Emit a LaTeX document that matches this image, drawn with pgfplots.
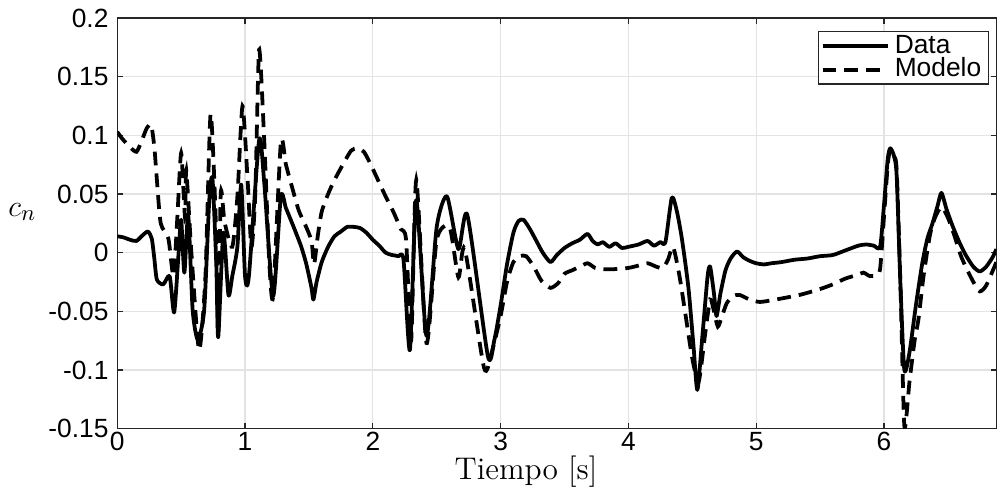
\documentclass[border=0pt]{standalone}
\usepackage{fontspec}
\usepackage{pgfplots}
\pgfplotsset{compat=1.18}
\newfontfamily\hel{Liberation Sans}
\definecolor{axgray}{HTML}{262626}
\definecolor{gridgray}{HTML}{E3E3E3}

\begin{document}
\begin{tikzpicture}
\begin{axis}[
  scale only axis,
  width=350.3pt, height=163.6pt,
  xmin=0, xmax=6.88, ymin=-0.15, ymax=0.2,
  xtick={0,1,2,3,4,5,6},
  xticklabels={0,1,2,3,4,5,6},
  ytick={-0.15,-0.1,-0.05,0,0.05,0.1,0.15,0.2},
  yticklabels={-0.15,-0.1,-0.05,0,0.05,0.1,0.15,0.2},
  tick align=inside, major tick length=2.2pt,
  ticklabel style={font=\hel\fontsize{10.5}{12}\selectfont, text=black},
  xticklabel style={inner sep=1.2pt, text depth=0pt},
  axis line style={axgray, line width=0.5pt},
  tick style={axgray, line width=0.5pt},
  grid=major, grid style={gridgray, line width=0.5pt},
  xlabel={Tiempo [s]}, ylabel={$c_n$},
  xlabel style={font=\fontsize{12.5}{14}\selectfont, inner sep=0pt, at={(axis description cs:0.465,-0.104)}, anchor=center},
  ylabel style={font=\fontsize{12.5}{14}\selectfont, rotate=-90, at={(axis description cs:-0.108,0.528)}, anchor=center},
  legend style={at={(axis description cs:0.992,0.968)}, anchor=north east,
    font=\hel\fontsize{10.5}{11}\selectfont, draw=axgray, line width=0.5pt,
    inner sep=1pt, row sep=0pt, cells={anchor=west},
    nodes={text height=7.2pt, text depth=1.6pt, inner ysep=0.3pt}},
  legend image code/.code={\draw[#1] (0pt,0pt) -- (26pt,0pt);},
  clip=true,
]
\addplot[black, line width=1.5pt, line join=round, smooth, tension=0.4] coordinates {
(0,0.014) (0.05,0.013) (0.1,0.011) (0.15,0.010) (0.2,0.015) (0.24,0.018) (0.27,0.012)
(0.29,-0.005) (0.31,-0.023) (0.36,-0.027) (0.41,-0.020) (0.445,-0.051) (0.48,0.0) (0.5,0.028)
(0.525,-0.017) (0.555,0.032) (0.59,-0.049) (0.63,-0.074) (0.68,-0.049) (0.72,0.045)
(0.745,0.063) (0.775,-0.01) (0.79,-0.072) (0.83,0.017) (0.87,-0.036) (0.9,-0.02)
(0.94,0.005) (0.97,0.058) (1.0,-0.02) (1.03,-0.02) (1.11,0.096) (1.15,0.06)
(1.22,-0.037) (1.28,0.048) (1.32,0.038) (1.38,0.022) (1.44,0.005) (1.48,-0.01)
(1.52,-0.03) (1.535,-0.04) (1.56,-0.025) (1.6,-0.008) (1.65,0.005) (1.7,0.014)
(1.75,0.018) (1.8,0.022) (1.85,0.022) (1.9,0.021) (1.95,0.017) (2.0,0.011)
(2.05,0.006) (2.1,0.0) (2.15,-0.002) (2.2,-0.003) (2.24,-0.006) (2.29,-0.083)
(2.34,0.045) (2.42,-0.071) (2.5,0.022) (2.58,0.048) (2.67,0.003) (2.74,0.032)
(2.9,-0.088) (2.95,-0.075) (3.0,-0.045) (3.05,-0.01) (3.1,0.017) (3.14,0.027)
(3.18,0.028) (3.23,0.02) (3.28,0.01) (3.33,0.0) (3.39,-0.008) (3.44,-0.002)
(3.5,0.004) (3.56,0.008) (3.62,0.011) (3.68,0.016) (3.72,0.01) (3.76,0.007)
(3.8,0.009) (3.85,0.005) (3.9,0.008) (3.95,0.004) (4.0,0.005) (4.08,0.007)
(4.15,0.010) (4.2,0.006) (4.25,0.009) (4.29,0.009) (4.34,0.047) (4.38,0.035)
(4.42,0.011) (4.47,-0.03) (4.51,-0.08) (4.54,-0.117) (4.58,-0.07) (4.62,-0.02)
(4.64,-0.012) (4.67,-0.035) (4.69,-0.054) (4.72,-0.035) (4.76,-0.015) (4.8,-0.005)
(4.85,0.001) (4.9,-0.004) (4.95,-0.007) (5.0,-0.009) (5.06,-0.010) (5.12,-0.009)
(5.2,-0.008) (5.3,-0.006) (5.4,-0.005) (5.5,-0.003) (5.6,-0.002) (5.7,0.002)
(5.8,0.006) (5.86,0.007) (5.92,0.006) (5.97,0.005) (6.0,0.04) (6.03,0.08)
(6.05,0.089) (6.08,0.082) (6.1,0.065) (6.13,-0.03) (6.16,-0.1) (6.2,-0.085)
(6.25,-0.045) (6.3,-0.009) (6.34,0.012) (6.38,0.025) (6.42,0.04) (6.45,0.051)
(6.49,0.037) (6.54,0.022) (6.59,0.009) (6.64,-0.002) (6.7,-0.012) (6.75,-0.016)
(6.8,-0.012) (6.85,-0.004) (6.88,0.003)
};
\addlegendentry{Data}
\addplot[black, line width=1.5pt, dash pattern=on 5.5pt off 3.2pt, smooth, tension=0.4] coordinates {
(0,0.103) (0.04,0.097) (0.1,0.09) (0.15,0.086) (0.19,0.095) (0.23,0.106) (0.265,0.109)
(0.29,0.09) (0.31,0.062) (0.34,0.025) (0.4,0.012) (0.44,-0.02) (0.47,0.03) (0.5,0.085)
(0.53,0.03) (0.54,0.07) (0.58,0.0) (0.64,-0.083) (0.69,-0.02) (0.73,0.118) (0.77,0.03)
(0.79,-0.07) (0.81,0.051) (0.84,0.026) (0.9,0.005) (0.94,0.048) (0.98,0.125)
(1.02,0.062) (1.05,0.005) (1.08,0.05) (1.11,0.173) (1.15,0.096) (1.19,-0.009)
(1.22,-0.037) (1.28,0.094) (1.32,0.075) (1.37,0.055) (1.42,0.036) (1.47,0.024)
(1.52,0.01) (1.54,-0.01) (1.57,0.015) (1.6,0.035) (1.65,0.05) (1.7,0.062)
(1.77,0.076) (1.83,0.087) (1.88,0.089) (1.93,0.086) (1.98,0.076) (2.04,0.062)
(2.1,0.048) (2.16,0.035) (2.22,0.02) (2.26,0.011) (2.3,-0.075) (2.34,0.062)
(2.42,-0.077) (2.5,0.011) (2.6,0.022) (2.67,-0.021) (2.72,0.003) (2.87,-0.098)
(2.93,-0.085) (3.0,-0.054) (3.05,-0.025) (3.1,-0.008) (3.15,-0.003) (3.2,-0.003)
(3.26,-0.012) (3.32,-0.024) (3.39,-0.030) (3.45,-0.026) (3.5,-0.018) (3.56,-0.015)
(3.62,-0.012) (3.68,-0.009) (3.74,-0.013) (3.8,-0.014) (3.9,-0.014) (4.0,-0.013)
(4.08,-0.011) (4.15,-0.009) (4.22,-0.012) (4.27,-0.013) (4.31,-0.006) (4.35,0.005)
(4.4,-0.02) (4.45,-0.055) (4.5,-0.09) (4.55,-0.11) (4.6,-0.07) (4.64,-0.04)
(4.67,-0.05) (4.7,-0.063) (4.73,-0.055) (4.77,-0.043) (4.82,-0.037) (4.87,-0.036)
(4.95,-0.04) (5.03,-0.042) (5.15,-0.04) (5.34,-0.036) (5.5,-0.031) (5.6,-0.027)
(5.7,-0.022) (5.79,-0.019) (5.84,-0.017) (5.89,-0.020) (5.94,-0.019) (5.97,-0.014)
(6.0,0.03) (6.03,0.075) (6.05,0.088) (6.08,0.082) (6.1,0.07) (6.13,-0.03)
(6.16,-0.148) (6.2,-0.11) (6.24,-0.075) (6.27,-0.057) (6.31,-0.02) (6.36,0.015)
(6.4,0.03) (6.45,0.039) (6.5,0.03) (6.55,0.015) (6.6,-0.002) (6.64,-0.012)
(6.7,-0.025) (6.75,-0.033) (6.8,-0.028) (6.88,-0.008)
};
\addlegendentry{Modelo}
\end{axis}
\path (current axis.south west) ++(-46.6pt,-25.5pt) rectangle ++(396.9pt,196.3pt);
\end{tikzpicture}
\end{document}
